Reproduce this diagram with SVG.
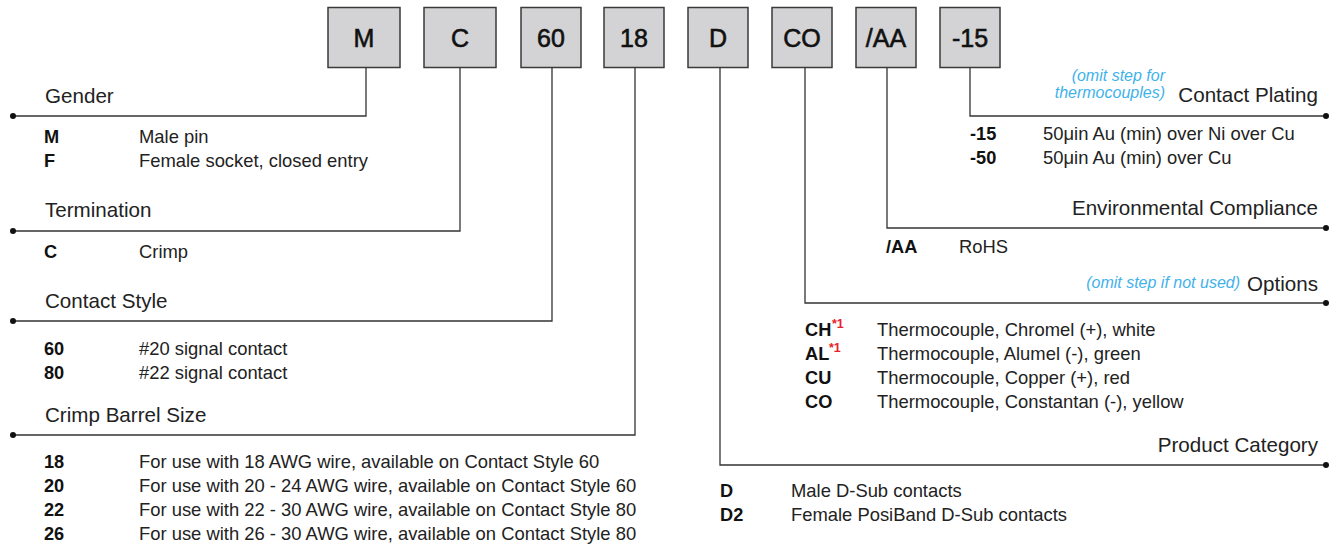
<svg xmlns="http://www.w3.org/2000/svg" width="1335" height="546" viewBox="0 0 1335 546">
<style>
.box{fill:#d3d3d5;stroke:#3a3a3a;stroke-width:1.5}
.bt{font-family:"Liberation Sans",Arial,sans-serif;font-size:25px;fill:#111;stroke:#111;stroke-width:0.6;text-anchor:middle}
.ttl{font-family:"Liberation Sans",Arial,sans-serif;font-size:20.6px;fill:#222}
.r{text-anchor:end}
.code{font-family:"Liberation Sans",Arial,sans-serif;font-size:18.2px;font-weight:bold;fill:#111}
.desc{font-family:"Liberation Sans",Arial,sans-serif;font-size:18.4px;fill:#222}
.note{font-family:"Liberation Sans",Arial,sans-serif;font-size:16px;font-style:italic;fill:#3fb2ea;text-anchor:end}
.sup{font-family:"Liberation Sans",Arial,sans-serif;font-size:12.5px;font-weight:bold;fill:#e8202a}
.ln{fill:none;stroke:#333;stroke-width:1.3}
.dot{fill:#111}
</style>
<g id="connectors">
<polyline class="ln" points="366,68 366,116 13,116"/>
<polyline class="ln" points="460,68 460,231 13,231"/>
<polyline class="ln" points="552,68 552,321 13,321"/>
<polyline class="ln" points="635,68 635,435 13,435"/>
<polyline class="ln" points="970,68 970,116 1326,116"/>
<polyline class="ln" points="887,68 887,228 1326,228"/>
<polyline class="ln" points="805,68 805,303 1326,303"/>
<polyline class="ln" points="720,68 720,465 1326,465"/>
<circle class="dot" cx="13" cy="116" r="3"/>
<circle class="dot" cx="13" cy="231" r="3"/>
<circle class="dot" cx="13" cy="321" r="3"/>
<circle class="dot" cx="13" cy="435" r="3"/>
<circle class="dot" cx="1326" cy="116" r="3"/>
<circle class="dot" cx="1326" cy="228" r="3"/>
<circle class="dot" cx="1326" cy="303" r="3"/>
<circle class="dot" cx="1326" cy="465" r="3"/>
</g>
<g id="box-M"><rect class="box" x="328" y="7.5" width="72" height="60"/><text class="bt" x="364" y="47">M</text></g>
<g id="box-C"><rect class="box" x="424" y="7.5" width="72" height="60"/><text class="bt" x="460" y="47">C</text></g>
<g id="box-60"><rect class="box" x="521" y="7.5" width="60" height="60"/><text class="bt" x="551" y="47">60</text></g>
<g id="box-18"><rect class="box" x="604" y="7.5" width="60" height="60"/><text class="bt" x="634" y="47">18</text></g>
<g id="box-D"><rect class="box" x="688" y="7.5" width="60" height="60"/><text class="bt" x="718" y="47">D</text></g>
<g id="box-CO"><rect class="box" x="772" y="7.5" width="60" height="60"/><text class="bt" x="802" y="47">CO</text></g>
<g id="box-AA"><rect class="box" x="856" y="7.5" width="60" height="60"/><text class="bt" x="886" y="47">/AA</text></g>
<g id="box-15"><rect class="box" x="940" y="7.5" width="60" height="60"/><text class="bt" x="970" y="47">-15</text></g>

<g id="gender">
<text class="ttl" x="45" y="103">Gender</text>
<text class="code" x="44" y="143">M</text><text class="desc" x="139" y="143">Male pin</text>
<text class="code" x="44" y="167">F</text><text class="desc" x="139" y="167">Female socket, closed entry</text>
</g>
<g id="termination">
<text class="ttl" x="45" y="217">Termination</text>
<text class="code" x="44" y="258">C</text><text class="desc" x="139" y="258">Crimp</text>
</g>
<g id="contact-style">
<text class="ttl" x="45" y="308">Contact Style</text>
<text class="code" x="44" y="355">60</text><text class="desc" x="139" y="355">#20 signal contact</text>
<text class="code" x="44" y="379">80</text><text class="desc" x="139" y="379">#22 signal contact</text>
</g>
<g id="crimp-barrel">
<text class="ttl" x="45" y="422">Crimp Barrel Size</text>
<text class="code" x="44" y="468">18</text><text class="desc" x="139" y="468">For use with 18 AWG wire, available on Contact Style 60</text>
<text class="code" x="44" y="492">20</text><text class="desc" x="139" y="492">For use with 20 - 24 AWG wire, available on Contact Style 60</text>
<text class="code" x="44" y="516">22</text><text class="desc" x="139" y="516">For use with 22 - 30 AWG wire, available on Contact Style 80</text>
<text class="code" x="44" y="540">26</text><text class="desc" x="139" y="540">For use with 26 - 30 AWG wire, available on Contact Style 80</text>
</g>
<g id="contact-plating">
<text class="note" x="1165" y="81">(omit step for</text>
<text class="note" x="1165" y="98">thermocouples)</text>
<text class="ttl r" x="1318" y="102">Contact Plating</text>
<text class="code" x="970" y="140">-15</text><text class="desc" x="1043" y="140">50μin Au (min) over Ni over Cu</text>
<text class="code" x="970" y="164">-50</text><text class="desc" x="1043" y="164">50μin Au (min) over Cu</text>
</g>
<g id="environmental">
<text class="ttl r" x="1318" y="215">Environmental Compliance</text>
<text class="code" x="886" y="253">/AA</text><text class="desc" x="959" y="253">RoHS</text>
</g>
<g id="options">
<text class="note" x="1240" y="288">(omit step if not used)</text>
<text class="ttl r" x="1318" y="291">Options</text>
<text class="code" x="805" y="336">CH</text><text class="sup" x="832" y="328">*1</text><text class="desc" x="877" y="336">Thermocouple, Chromel (+), white</text>
<text class="code" x="805" y="360">AL</text><text class="sup" x="829" y="352">*1</text><text class="desc" x="877" y="360">Thermocouple, Alumel (-), green</text>
<text class="code" x="805" y="384">CU</text><text class="desc" x="877" y="384">Thermocouple, Copper (+), red</text>
<text class="code" x="805" y="408">CO</text><text class="desc" x="877" y="408">Thermocouple, Constantan (-), yellow</text>
</g>
<g id="product-category">
<text class="ttl r" x="1318" y="452">Product Category</text>
<text class="code" x="720" y="497">D</text><text class="desc" x="791" y="497">Male D-Sub contacts</text>
<text class="code" x="720" y="521">D2</text><text class="desc" x="791" y="521">Female PosiBand D-Sub contacts</text>
</g>
</svg>
